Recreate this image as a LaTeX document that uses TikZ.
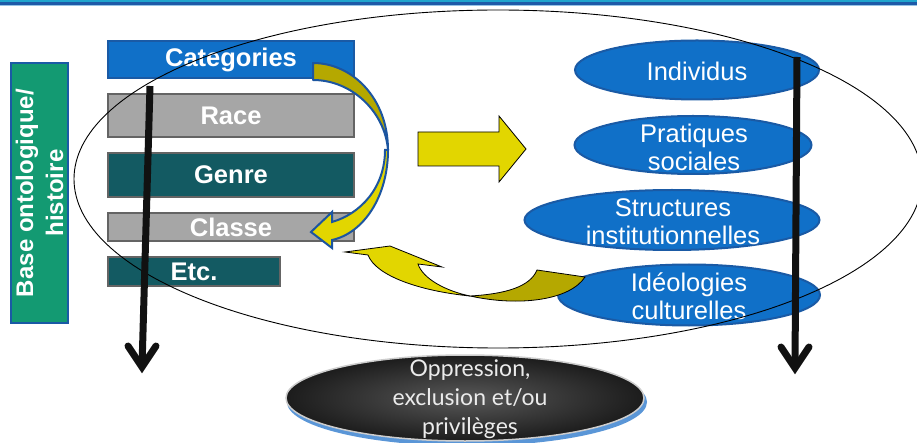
\documentclass[tikz,border=0pt]{standalone}
\usepackage{fontspec}
\setmainfont{Liberation Sans}
\newfontfamily\gillfont{Lato}
\usetikzlibrary{shapes.geometric,calc}

\definecolor{topcyan}{RGB}{32,165,205}
\definecolor{topblue}{RGB}{30,90,168}
\definecolor{toplight}{RGB}{150,195,230}
\definecolor{basegreen}{RGB}{19,154,114}
\definecolor{catblue}{RGB}{16,112,200}
\definecolor{catedge}{RGB}{26,90,165}
\definecolor{boxgray}{RGB}{166,166,166}
\definecolor{grayedge}{RGB}{100,100,100}
\definecolor{boxteal}{RGB}{19,90,98}
\definecolor{pushyellow}{RGB}{226,214,0}
\definecolor{pusholive}{RGB}{181,168,0}
\definecolor{arrowblue}{RGB}{28,85,160}
\definecolor{shadowblue}{RGB}{90,150,215}

\tikzset{
  box/.style={draw, line width=2pt, inner sep=0pt, minimum width=246pt,
    text=white, font=\fontsize{25.5}{30}\selectfont\bfseries},
  catbox/.style={box, fill=catblue, draw=catedge},
  graybox/.style={box, fill=boxgray, draw=grayedge},
  tealbox/.style={box, fill=boxteal, draw=grayedge},
  basebox/.style={draw=catedge, line width=2pt, fill=basegreen, inner sep=0pt,
    text=white, align=center, font=\fontsize{24}{30}\selectfont\bfseries},
  blueell/.style={ellipse, draw=catedge, line width=2pt, fill=catblue, inner sep=0pt},
  elltext/.style={text=white, align=center, inner sep=0pt,
    font=\fontsize{25.5}{28}\selectfont},
  darkell/.style={ellipse, draw={rgb,255:red,205;green,205;blue,205}, line width=1.5pt,
    inner color={rgb,255:red,88;green,88;blue,88},
    outer color={rgb,255:red,28;green,28;blue,28}, inner sep=0pt},
  oppText/.style={text={rgb,255:red,235;green,235;blue,235}, align=center, inner sep=0pt,
    font=\gillfont\fontsize{23}{29}\selectfont},
  yellowshape/.style={fill=pushyellow, draw=black, line width=0.8pt, line join=miter},
  oliveshape/.style={fill=pusholive, draw=black, line width=0.8pt},
  shaft/.style={line width=7pt, draw={rgb,255:red,17;green,17;blue,17}},
  barb/.style={shaft, line cap=round, line join=miter},
}

\begin{document}
\begin{tikzpicture}[x=1pt, y=-1pt]
  \useasboundingbox (0,0) rectangle (917,443);

  % bandeau du haut
  \fill[topcyan] (0,0) rectangle (917,2);
  \fill[topblue] (0,2) rectangle (917,4.8);
  \fill[toplight] (0,4.8) rectangle (917,5.6);

  % base ontologique
  \node[basebox, rotate=90, minimum width=260pt, minimum height=57pt] (base) at (39.5,193)
    {Base ontologique/\\histoire};

  % categories
  \node[catbox, minimum height=37pt] (cat) at (231,59.5) {Categories};
  \node[graybox, minimum height=43pt] (race) at (231,115.5) {Race};
  \node[tealbox, minimum height=44pt] (genre) at (231,175) {Genre};
  \node[graybox, minimum height=28pt] (classe) at (231,227) {Classe};
  \node[tealbox, minimum width=172pt, minimum height=29pt] (etc) at (194,271.5) {Etc.};

  % niveaux
  \node[blueell, minimum width=244pt, minimum height=59pt] (indiv) at (697,70) {};
  \node[elltext] (indivtxt) at (697,71) {Individus};
  \node[blueell, minimum width=237pt, minimum height=58pt] (prat) at (693,145) {};
  \node[elltext] (prattxt) at (694,147) {Pratiques\\sociales};
  \node[blueell, minimum width=295pt, minimum height=60pt] (struct) at (672,220) {};
  \node[elltext] (structtxt) at (673,222) {Structures\\institutionnelles};
  \node[blueell, minimum width=262pt, minimum height=61pt] (ideo) at (689,295) {};
  \node[elltext] (ideotxt) at (689,296) {Id\'eologies\\culturelles};

  % grand cercle
  \coordinate (ring) at (498,179);
  \draw[line width=0.9pt] (ring) ellipse [x radius=424pt, y radius=169pt];

  % fleche droite
  \draw[yellowshape] (418,132) -- (499,132) -- (499,116) -- (526,149)
    -- (499,182) -- (499,166) -- (418,166) -- cycle;

  % fleche courbe categories -> classe
  \draw[oliveshape, draw=arrowblue, line width=2pt, line join=round]
    (313,63) .. controls (352,63) and (388,98) .. (388,150)
    .. controls (385,112) and (352,80) .. (313,80) -- cycle;
  \draw[yellowshape, draw=arrowblue, line width=2pt]
    (388,150) .. controls (388,196) and (364,233) .. (332,240)
    -- (332,248) -- (311,232) -- (332,212) -- (332,222)
    .. controls (360,214) and (385,188) .. (385,150) -- cycle;

  % fleche courbe ideologies -> classe
  \draw[oliveshape] (470,296) .. controls (505,294) and (530,287) .. (537,270)
    -- (585,277) .. controls (570,300) and (520,307) .. (470,296) -- cycle;
  \draw[yellowshape] (345,252) -- (390,246) -- (442,267) -- (418,264)
    .. controls (423,279) and (446,291) .. (470,296)
    .. controls (420,291) and (376,276) .. (368,255) -- cycle;

  % fleches noires
  \coordinate (ltop) at (150,86);
  \coordinate (lend) at (142,367);
  \coordinate (rtop) at (797,57);
  \coordinate (rend) at (795,368);
  \draw[shaft] (ltop) -- (lend);
  \draw[barb] ($(lend)+(-14,-21)$) -- (lend) -- ($(lend)+(14,-21)$);
  \draw[shaft] (rtop) -- (rend);
  \draw[barb] ($(rend)+(-14,-21)$) -- (rend) -- ($(rend)+(14,-21)$);

  % oppression
  \fill[shadowblue] (467,402) ellipse [x radius=180pt, y radius=44pt];
  \node[darkell, minimum width=358pt, minimum height=86pt] (oppr) at (465,398) {};
  \node[oppText] (opprtxt) at (470,399) {Oppression,\\exclusion et/ou\\privil\`eges};
\end{tikzpicture}
\end{document}
